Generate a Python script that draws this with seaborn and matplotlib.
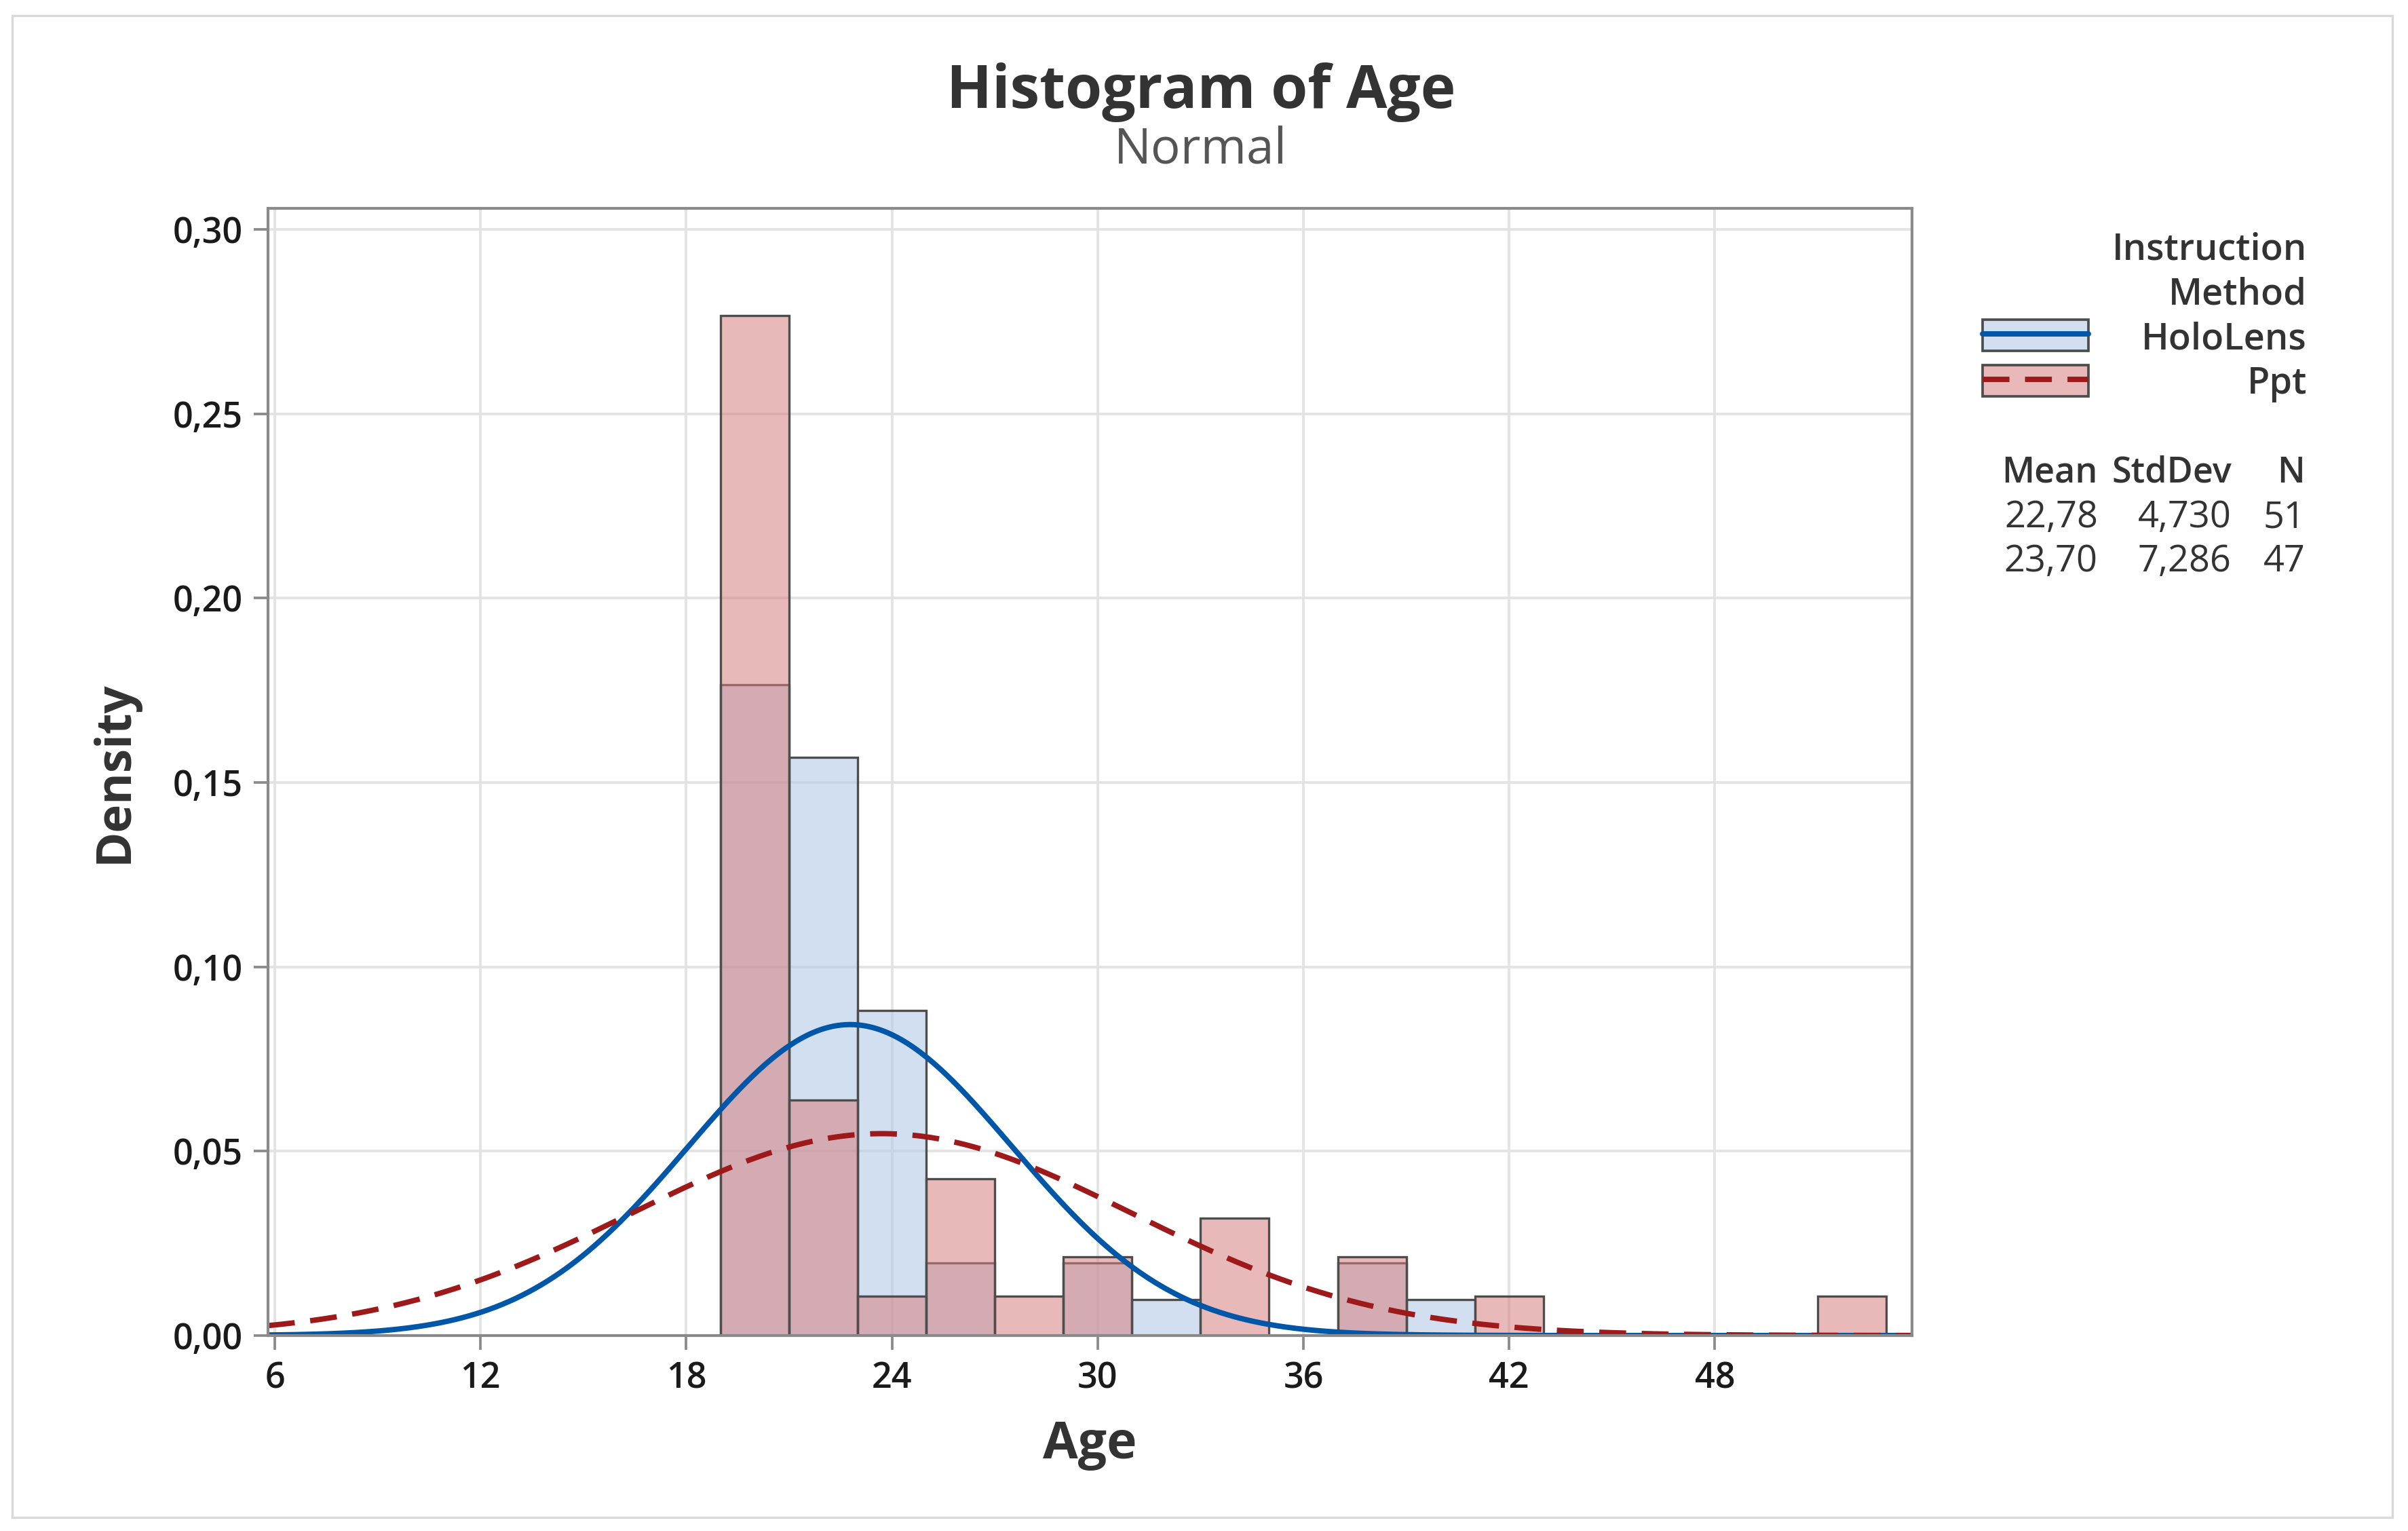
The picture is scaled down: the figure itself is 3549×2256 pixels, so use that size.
import matplotlib
matplotlib.use("Agg", force=True)
import matplotlib.pyplot as plt
from matplotlib.lines import Line2D
from matplotlib.patches import Patch, Rectangle
from matplotlib.ticker import FuncFormatter
import numpy as np
import seaborn as sns

# histogram bins (width 2) and counts
BIN_EDGES = [19, 21, 23, 25, 27, 29, 31, 33, 35, 37, 39, 41, 43, 45, 47, 49, 51, 53]
HOLO_COUNTS = [18, 16, 9, 2, 0, 2, 1, 0, 0, 2, 1, 0, 0, 0, 0, 0, 0]
PPT_COUNTS = [26, 6, 1, 4, 1, 2, 0, 3, 0, 2, 0, 1, 0, 0, 0, 0, 1]

GROUPS = ["HoloLens", "Ppt"]
MEANS = [22.78, 23.70]
STDEVS = [4.730, 7.286]
NS = [51, 47]
MEAN_LABELS = ["22,78", "23,70"]
STDEV_LABELS = ["4,730", "7,286"]

X_TICKS = [6, 12, 18, 24, 30, 36, 42, 48]
Y_TICKS = [0.0, 0.05, 0.10, 0.15, 0.20, 0.25, 0.30]

BLUE_FILL = "#B4CAE6"
PINK_FILL = "#D78081"
BLUE_LINE = "#0057A8"
RED_LINE = "#9E1A1A"
EDGE = "#4D4D4D"
TEXT = "#333333"
DASHES = (5.0, 2.9)

sns.set_theme(style="white")
plt.rcParams["font.family"] = ["Open Sans", "DejaVu Sans"]

fig = plt.figure(figsize=(3549 / 300, 2256 / 300), dpi=300)
ax = fig.add_axes([0.1113, 0.1277, 0.794 - 0.1113, 0.8638 - 0.1277])

mids = [(a + b) / 2 for a, b in zip(BIN_EDGES[:-1], BIN_EDGES[1:])]
sns.histplot(x=mids, weights=HOLO_COUNTS, bins=BIN_EDGES, stat="density",
             color=BLUE_FILL, alpha=0.6, edgecolor=EDGE, linewidth=0.8, ax=ax)
sns.histplot(x=mids, weights=PPT_COUNTS, bins=BIN_EDGES, stat="density",
             color=PINK_FILL, alpha=0.55, edgecolor=EDGE, linewidth=0.8, ax=ax)

xlim = (5.8, 53.75)
grid_x = np.linspace(xlim[0], xlim[1], 500)
for mean, sd, color, dashes in [(MEANS[0], STDEVS[0], BLUE_LINE, None),
                                (MEANS[1], STDEVS[1], RED_LINE, DASHES)]:
    pdf = np.exp(-0.5 * ((grid_x - mean) / sd) ** 2) / (sd * np.sqrt(2 * np.pi))
    sns.lineplot(x=grid_x, y=pdf, color=color, linewidth=1.9, ax=ax)
    if dashes:
        ax.lines[-1].set_dashes(dashes)

ax.set_xlim(*xlim)
ax.set_ylim(0, 0.3057)
ax.set_xticks(X_TICKS)
ax.set_yticks(Y_TICKS)
ax.yaxis.set_major_formatter(FuncFormatter(lambda v, _: f"{v:.2f}".replace(".", ",")))
ax.set_axisbelow(True)
ax.grid(True, color="#E3E3E3", linewidth=0.9)
for spine in ax.spines.values():
    spine.set_color("#8A8A8A")
    spine.set_linewidth(1.0)
ax.tick_params(axis="both", which="major", direction="out", length=5, width=0.9,
               color="#8A8A8A", labelsize=12.5, labelcolor="#1A1A1A", pad=4,
               bottom=True, left=True)
for lab in ax.get_xticklabels() + ax.get_yticklabels():
    lab.set_fontweight("semibold")
ax.set_xlabel("Age", fontsize=18, fontweight="bold", color=TEXT, labelpad=8)
ax.set_ylabel("Density", fontsize=17, fontweight="bold", color=TEXT, labelpad=12)

fig.text(0.4987, 0.9398, "Histogram of Age", ha="center", va="center",
         fontsize=21, fontweight="bold", color=TEXT)
fig.text(0.4987, 0.9017, "Normal", ha="center", va="center", fontsize=17.5, color="#555555")

# legend
handles = [
    (Patch(facecolor="#D2DFF0", edgecolor=EDGE, linewidth=0.9),
     Line2D([], [], color=BLUE_LINE, linewidth=1.9)),
    (Patch(facecolor="#E9B9BA", edgecolor=EDGE, linewidth=0.9),
     Line2D([], [], color=RED_LINE, linewidth=1.9, dashes=DASHES)),
]
fig.legend(handles=handles, labels=[" ", " "], loc="upper left",
           bbox_to_anchor=(0.8157, 0.8034), frameon=False, borderpad=0,
           fontsize=13, handlelength=2.88, handleheight=0.92,
           labelspacing=0.22, handletextpad=0.2)

RX = 0.958
fig.text(RX, 0.8365, "Instruction", ha="right", va="center", fontsize=13,
         fontweight="semibold", color=TEXT)
fig.text(RX, 0.8074, "Method", ha="right", va="center", fontsize=13,
         fontweight="semibold", color=TEXT)
for y, name in zip([0.7783, 0.7493], GROUPS):
    fig.text(RX, y, name, ha="right", va="center", fontsize=13,
             fontweight="semibold", color=TEXT)

col_x = [1366 / 1568, 1453 / 1568, 1501 / 1568]
for cx, head in zip(col_x, ["Mean", "StdDev", "N"]):
    fig.text(cx, 0.691, head, ha="right", va="center", fontsize=12.5,
             fontweight="semibold", color=TEXT)
for y, m, s, n in zip([0.662, 0.633], MEAN_LABELS, STDEV_LABELS, NS):
    for cx, val in zip(col_x, [m, s, str(n)]):
        fig.text(cx, y, val, ha="right", va="center", fontsize=13, color=TEXT)

fig.add_artist(Rectangle((0.0051, 0.009), 0.9885, 0.981, transform=fig.transFigure,
                         fill=False, edgecolor="#D9D9D9", linewidth=0.8))

fig.savefig("out.png", dpi=300)
